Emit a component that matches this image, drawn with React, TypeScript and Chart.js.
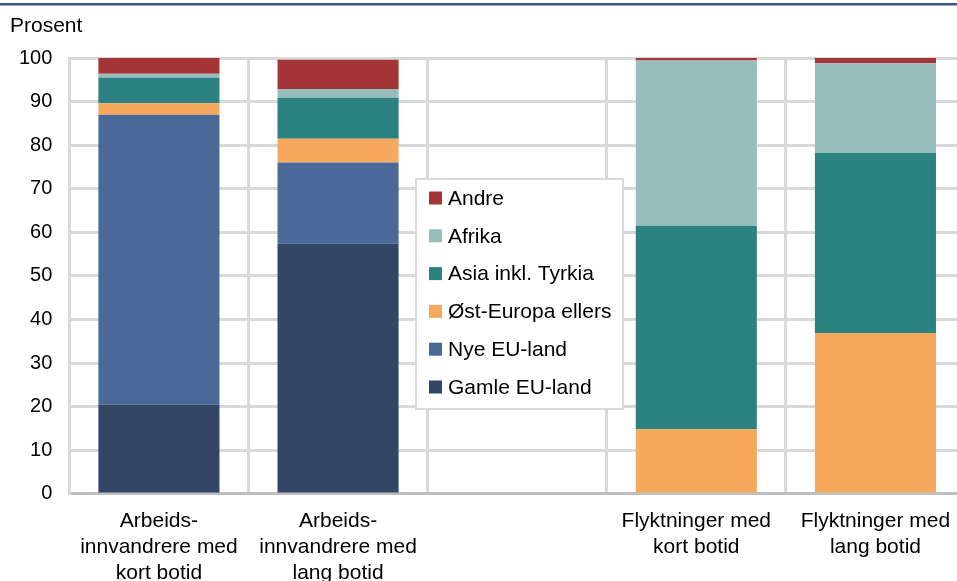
import React, { useEffect, useRef } from "react";
import { Chart, registerables } from "chart.js";

Chart.register(...registerables);

const categories: (string | string[])[] = [
  ["Arbeids-", "innvandrere med", "kort botid"],
  ["Arbeids-", "innvandrere med", "lang botid"],
  "",
  ["Flyktninger med", "kort botid"],
  ["Flyktninger med", "lang botid"],
];

const gamleEU = [20.5, 57.4, null, 0, 0];
const nyeEU = [66.5, 18.6, null, 0, 0];
const ostEuropa = [2.6, 5.5, null, 14.8, 36.9];
const asia = [5.9, 9.4, null, 46.7, 41.3];
const afrika = [0.9, 2.0, null, 37.9, 20.6];
const andre = [3.6, 6.7, null, 0.6, 1.2];

const yTicks = [0, 10, 20, 30, 40, 50, 60, 70, 80, 90, 100];

const FONT = "'Liberation Sans', Arial, Helvetica, sans-serif";

const decorPlugin = {
  id: "decor",
  beforeDraw(chart: any) {
    const ctx = chart.ctx;
    ctx.save();
    ctx.fillStyle = "#ffffff";
    ctx.fillRect(0, 0, chart.width, chart.height);
    ctx.fillStyle = "#3d5785";
    ctx.fillRect(0, 3, chart.width, 2.5);
    ctx.fillStyle = "#000000";
    ctx.font = `21px ${FONT}`;
    ctx.textBaseline = "middle";
    ctx.textAlign = "left";
    ctx.fillText("Prosent", 10, 26);
    ctx.restore();
  },
  afterDraw(chart: any) {
    const ctx = chart.ctx;
    const x0 = 416, y0 = 179, w = 207, h = 230;
    ctx.save();
    ctx.fillStyle = "#ffffff";
    ctx.fillRect(x0, y0, w, h);
    ctx.strokeStyle = "#d9d9d9";
    ctx.lineWidth = 2;
    ctx.strokeRect(x0, y0, w, h);
    const ds = chart.data.datasets.slice().reverse();
    ctx.font = `21px ${FONT}`;
    ctx.textBaseline = "middle";
    ctx.textAlign = "left";
    ds.forEach((d: any, i: number) => {
      const cy = 198 + i * 37.8;
      ctx.fillStyle = d.backgroundColor;
      ctx.fillRect(429, cy - 6.5, 13, 13);
      ctx.fillStyle = "#000000";
      ctx.fillText(d.label, 448, cy + 1);
    });
    ctx.restore();
  },
};

export default function App() {
  const ref = useRef<HTMLCanvasElement | null>(null);
  useEffect(() => {
    if (!ref.current) return;
    const chart = new Chart(ref.current, {
      type: "bar",
      data: {
        labels: categories,
        datasets: [
          { label: "Gamle EU-land", data: gamleEU, backgroundColor: "#334666" },
          { label: "Nye EU-land", data: nyeEU, backgroundColor: "#4a6999" },
          { label: "Øst-Europa ellers", data: ostEuropa, backgroundColor: "#f6a95e" },
          { label: "Asia inkl. Tyrkia", data: asia, backgroundColor: "#2c8280" },
          { label: "Afrika", data: afrika, backgroundColor: "#97bdbd" },
          { label: "Andre", data: andre, backgroundColor: "#a53436" },
        ] as any,
      },
      options: {
        animation: false,
        responsive: false,
        maintainAspectRatio: false,
        layout: { padding: { top: 58, left: 2, right: 10, bottom: 6 } },
        datasets: {
          bar: { barPercentage: 0.676, categoryPercentage: 1, borderWidth: 0 },
        } as any,
        plugins: {
          legend: { display: false },
          tooltip: { enabled: false },
          title: { display: false },
        },
        scales: {
          x: {
            stacked: true,
            grid: { color: "#d9d9d9", lineWidth: 3, drawTicks: false, offset: true },
            border: { color: "#bfbfbf", width: 3 },
            ticks: {
              color: "#000000",
              font: { family: FONT, size: 21, lineHeight: 1.24 },
              padding: 14,
              maxRotation: 0,
              autoSkip: false,
            },
          },
          y: {
            stacked: true,
            min: 0,
            max: 100,
            afterBuildTicks: (scale: any) => {
              scale.ticks = yTicks.map((v) => ({ value: v }));
            },
            grid: { color: "#d9d9d9", lineWidth: 3, drawTicks: false },
            border: { color: "#d9d9d9", width: 3 },
            ticks: {
              color: "#000000",
              font: { family: FONT, size: 20 },
              padding: 17,
            },
          },
        },
      },
      plugins: [decorPlugin],
    });
    return () => chart.destroy();
  }, []);
  return (
    <div style={{ position: "fixed", left: 0, top: 0, width: 975, height: 606 }}>
      <canvas ref={ref} width={975} height={606} style={{ width: 975, height: 606, display: "block" }} />
    </div>
  );
}
